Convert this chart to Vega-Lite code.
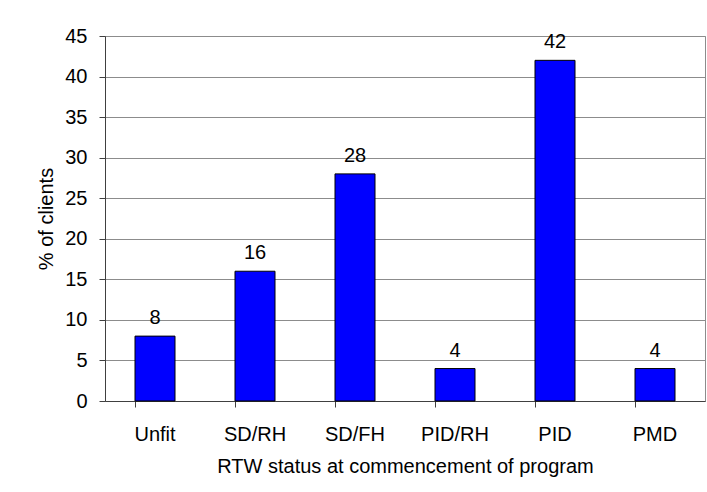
{
  "$schema": "https://vega.github.io/schema/vega-lite/v6.json",
  "width": 600,
  "height": 365,
  "autosize": {"type": "none"},
  "padding": {"left": 105, "top": 36, "right": 2, "bottom": 91},
  "background": "white",
  "data": {
    "values": [
      {"status": "Unfit", "pct": 8},
      {"status": "SD/RH", "pct": 16},
      {"status": "SD/FH", "pct": 28},
      {"status": "PID/RH", "pct": 4},
      {"status": "PID", "pct": 42},
      {"status": "PMD", "pct": 4}
    ]
  },
  "encoding": {
    "x": {
      "field": "status",
      "type": "nominal",
      "sort": null,
      "scale": {"paddingInner": 0.6, "paddingOuter": 0.3},
      "axis": {
        "title": "RTW status at commencement of program",
        "labelAngle": 0,
        "bandPosition": 0,
        "tickSize": 6,
        "tickColor": "#404040",
        "domainColor": "#404040",
        "labelFontSize": 20,
        "labelPadding": 17,
        "labelColor": "#000000",
        "titleFontSize": 20,
        "titleFontWeight": "normal",
        "titleColor": "#000000",
        "titlePadding": 12
      }
    },
    "y": {
      "field": "pct",
      "type": "quantitative",
      "scale": {"domain": [0, 45], "nice": false},
      "axis": {
        "title": "% of clients",
        "values": [0, 5, 10, 15, 20, 25, 30, 35, 40, 45],
        "grid": true,
        "gridColor": "#8c8c8c",
        "tickSize": 6,
        "tickColor": "#404040",
        "domainColor": "#404040",
        "labelFontSize": 20,
        "labelPadding": 12,
        "labelColor": "#000000",
        "titleFontSize": 20,
        "titleFontWeight": "normal",
        "titleColor": "#000000",
        "titlePadding": 8
      }
    }
  },
  "layer": [
    {"mark": {"type": "bar", "fill": "#0000FF", "stroke": "#000000", "strokeWidth": 1}},
    {
      "mark": {"type": "text", "dy": -12, "baseline": "alphabetic", "fontSize": 20, "color": "#000000"},
      "encoding": {"text": {"field": "pct", "type": "quantitative"}}
    }
  ],
  "config": {
    "font": "Liberation Sans",
    "view": {"stroke": "#8c8c8c"}
  }
}
